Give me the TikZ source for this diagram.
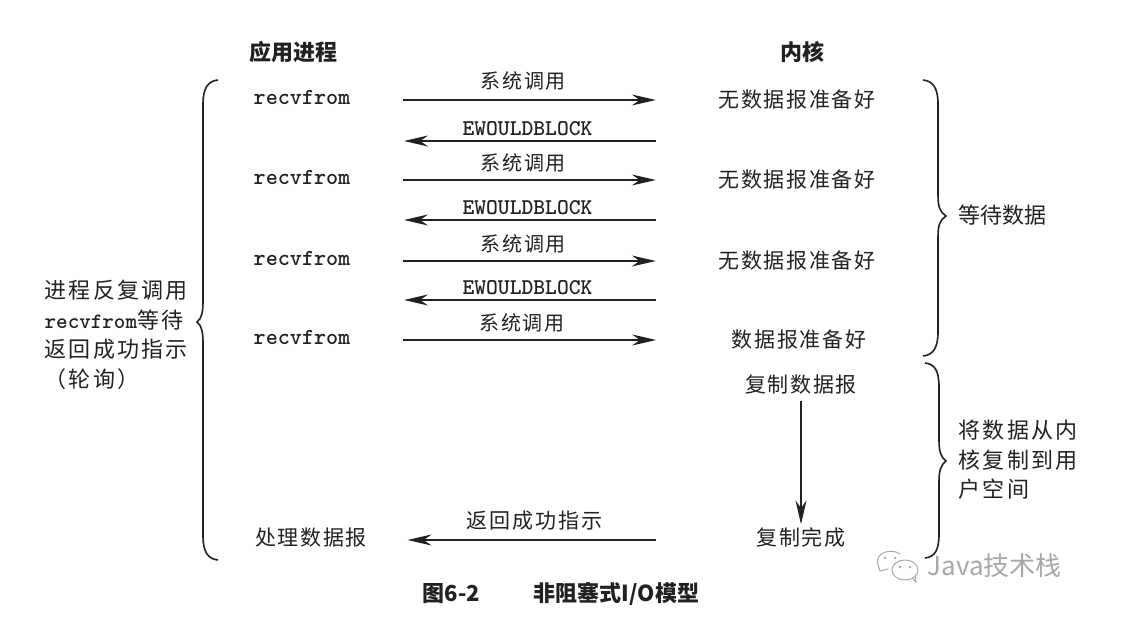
\documentclass[tikz,border=0pt]{standalone}
\usepackage{fontspec}
\setmainfont{Noto Sans CJK SC}
\newfontfamily\widecjk[LetterSpace=10]{Noto Sans CJK SC}
\usepackage{tikz}
\usetikzlibrary{arrows.meta,positioning}
\definecolor{ink}{gray}{0.13}
\definecolor{wmgray}{gray}{0.66}
\tikzstyle{head}=[inner sep=0pt,font=\fontsize{22}{24}\selectfont\bfseries]
\tikzstyle{proc}=[inner sep=0pt,text height=16pt,text depth=6pt,font=\fontsize{23}{26}\selectfont\ttfamily\bfseries]
\tikzstyle{kern}=[inner sep=0pt,font=\fontsize{21}{24}\selectfont\addfontfeature{LetterSpace=8}]
\tikzstyle{last}=[kern,text height=16pt,text depth=6pt]
\tikzstyle{note}=[inner sep=0pt,align=left,font=\fontsize{22}{29.5}\selectfont\widecjk]
\tikzstyle{call}=[inner sep=0pt,above=7pt,font=\fontsize{20}{24}\selectfont\addfontfeature{LetterSpace=8}]
\tikzstyle{errno}=[inner sep=0pt,above=5pt,font=\fontsize{22.5}{24}\selectfont\ttfamily\bfseries]
\tikzstyle{brace}=[-,line width=1.6pt]

\begin{document}
\begin{tikzpicture}[x=1pt,y=-1pt,->,>={Stealth[length=24pt,width=11pt]},
                    line width=1.3pt,color=ink,node distance=80pt]
  \useasboundingbox (0,0) rectangle (1146,617);

  \node[head]          (P0) at (293,52)      {应用进程};
  \node[head]          (K0) at (802,52)      {内核};

  \node[proc]          (R1) at (302,100)     {recvfrom};
  \node[proc]          (R2) [below of=R1]    {recvfrom};
  \node[proc]          (R3) [below of=R2,yshift=-1pt] {recvfrom};
  \node[proc]          (R4) [below of=R3,yshift=1pt]  {recvfrom};
  \node[last]          (R5) at (311,540)     {处理数据报};

  \node[kern]          (K1) at (797,100)     {无数据报准备好};
  \node[kern]          (K2) [below of=K1]    {无数据报准备好};
  \node[kern]          (K3) [below of=K2,yshift=-1pt] {无数据报准备好};
  \node[kern]          (K4) [below of=K3,xshift=2pt,yshift=1pt] {数据报准备好};
  \node[kern]          (K5) at (801,385)     {复制数据报};
  \node[last]          (K6) at (801,540)     {复制完成};

  \coordinate (E1) at (656,141);
  \coordinate (F1) at (404,141);
  \coordinate (E2) at (656,220);
  \coordinate (F2) at (404,220);
  \coordinate (E3) at (656,300);
  \coordinate (F3) at (404,300);

  \path (R1) edge[shorten <=52pt,shorten >=62pt] node[call,pos=.47,above=9pt] {系统调用} (K1)
        (R2) edge[shorten <=52pt,shorten >=62pt] node[call,pos=.47] {系统调用} (K2)
        (R3) edge[shorten <=52pt,shorten >=62pt] node[call,pos=.47] {系统调用} (K3)
        (R4) edge[shorten <=52pt,shorten >=75pt] node[call,pos=.45] {系统调用} (K4)
        (E1) edge node[errno,pos=.51] {EWOULDBLOCK} (F1)
        (E2) edge node[errno,pos=.51] {EWOULDBLOCK} (F2)
        (E3) edge node[errno,pos=.51] {EWOULDBLOCK} (F3)
        (K5) edge[shorten <=6pt,shorten >=4pt] (K6)
        (K6) edge[shorten <=100pt,shorten >=40pt] node[call,pos=.57,above=9pt,font=\fontsize{21}{24}\selectfont\widecjk] {返回成功指示} (R5);

  % braces
  \draw[brace] (218,80) .. controls (208,81) and (203,88) .. (203,104) -- (203,300)
     .. controls (203,312) and (202,318) .. (197,322)
     .. controls (202,326) and (203,332) .. (203,344) -- (203,536)
     .. controls (203,552) and (208,559) .. (218,560);
  \draw[brace] (923,80) .. controls (933,81) and (938,88) .. (938,104) -- (938,195)
     .. controls (938,207) and (940,212) .. (946,216)
     .. controls (940,220) and (938,225) .. (938,237) -- (938,332)
     .. controls (938,348) and (933,355) .. (923,356);
  \draw[brace] (925,363) .. controls (935,364) and (939,371) .. (939,387) -- (939,440)
     .. controls (939,452) and (941,457) .. (946,461)
     .. controls (941,465) and (939,470) .. (939,482) -- (939,534)
     .. controls (939,550) and (935,557) .. (925,558);

  \node[note]          (N1) [anchor=west] at (44,335)
     {进程反复调用\\{\ttfamily\bfseries recvfrom}等待\\返回成功指示\\（轮询）};
  \node[note,font=\fontsize{22}{24}\selectfont] (N2) [anchor=west] at (958,215) {等待数据};
  \node[note]          (N3) [anchor=west] at (958,460) {将数据从内\\核复制到用\\户空间};

  \node[head,font=\fontsize{22}{24}\selectfont\bfseries] (T) at (561,594) {图6-2\hspace{2.45em}非阻塞式I/O模型};

  % watermark
  \draw[-,wmgray,line width=1pt] (880,571) -- (878,565) .. controls (874,552) and (892,548) .. (900,554);
  \draw[-,wmgray,line width=1pt] (880,571) -- (888,569);
  \draw[-,wmgray,line width=1pt,fill=white] (905,570) ellipse (13pt and 10pt);
  \draw[-,wmgray,line width=1pt] (912,578) -- (916,582) -- (915,576);
  \fill[wmgray] (885,558) circle (1.3pt) (895,558) circle (1.3pt) (900,567) circle (1.3pt) (910,567) circle (1.3pt);
  \node[inner sep=0pt,text=wmgray,anchor=west,font=\fontsize{26}{28}\selectfont] (W) at (927,566) {Java技术栈};
\end{tikzpicture}
\end{document}
